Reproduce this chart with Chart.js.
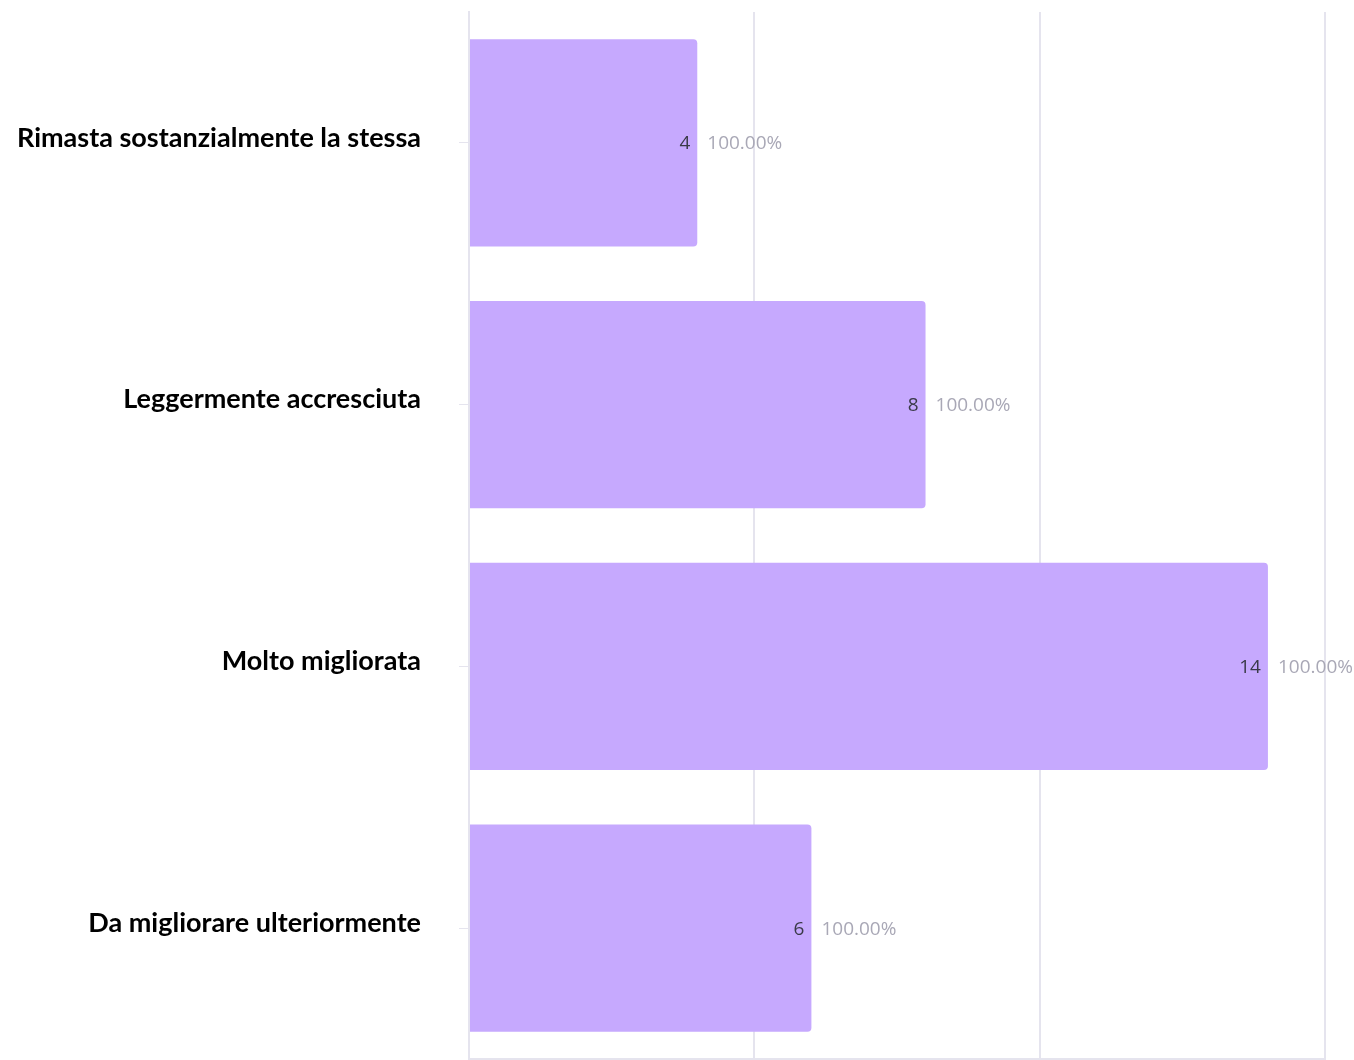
<!DOCTYPE html>
<html><head><meta charset="utf-8">
<script src="https://cdn.jsdelivr.net/npm/chart.js@4/dist/chart.umd.min.js"></script>
<style>html,body{margin:0;padding:0;background:#fff}#w{width:1354px;height:1060px}</style>
</head><body><div id="w"><canvas id="c"></canvas></div>
<script>
const categories = ["Rimasta sostanzialmente la stessa","Leggermente accresciuta","Molto migliorata","Da migliorare ulteriormente"];
const counts = [4, 8, 14, 6];
const percentLabels = ["100.00%","100.00%","100.00%","100.00%"];
const xTicks = [0, 5, 10, 15];

const labelPlugin = {
  id: 'lbl',
  afterDatasetsDraw(chart) {
    const ctx = chart.ctx;
    const meta = chart.getDatasetMeta(0);
    ctx.save();
    ctx.textBaseline = 'middle';
    ctx.font = '19px "Open Sans", sans-serif';
    meta.data.forEach((bar, i) => {
      ctx.fillStyle = '#3a3a48';
      ctx.textAlign = 'right';
      ctx.fillText(String(counts[i]), bar.x - 7, bar.y + 1);
      ctx.fillStyle = '#a9a8b6';
      ctx.textAlign = 'left';
      ctx.fillText(percentLabels[i], bar.x + 10, bar.y + 1);
    });
    ctx.restore();
  }
};

new Chart(document.getElementById('c'), {
  type: 'bar',
  data: { labels: categories, datasets: [{ data: counts, backgroundColor: '#c6a9fe', borderRadius: {topRight:4,bottomRight:4,topLeft:0,bottomLeft:0}, borderSkipped: false, categoryPercentage: 0.8, barPercentage: 0.99 }] },
  options: {
    indexAxis: 'y', responsive: true, maintainAspectRatio: false, animation: false,
    layout: { padding: { top: 12, right: 29, bottom: 1, left: 0 } },
    plugins: { legend: { display: false }, tooltip: { enabled: false } },
    scales: {
      x: { min: 0, max: 15, afterBuildTicks(s){ s.ticks = xTicks.map(v=>({value:v})); },
           ticks: { display: false },
           grid: { color: '#e5e4ee', lineWidth: 2, drawTicks: false },
           border: { display: true, color: '#e5e4ee', width: 2 } },
      y: { afterFit(s){ s.width = 469; s.paddingTop = 0; s.paddingBottom = 0; },
           ticks: { color: '#000', font: { family: 'Lato', weight: 'bold', size: 27 }, padding: 38, labelOffset: -5 },
           grid: { display: true, offset: false, drawOnChartArea: false, tickLength: 10, color: '#e5e4ee' },
           border: { display: true, color: '#e5e4ee', width: 2 } }
    }
  },
  plugins: [labelPlugin]
});
</script></body></html>
